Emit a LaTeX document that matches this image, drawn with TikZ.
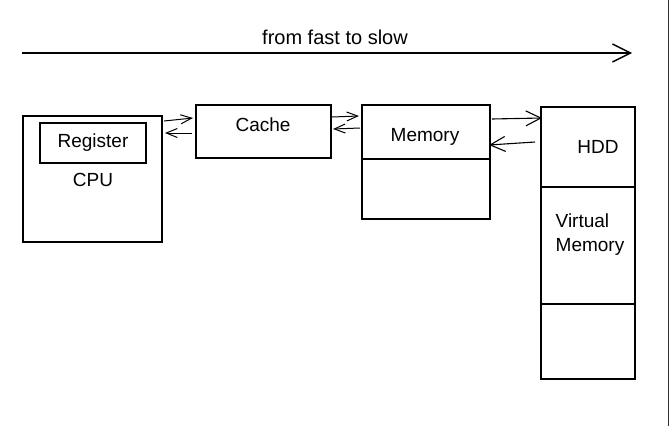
\documentclass[tikz,border=0pt]{standalone}
\usepackage{fontspec}
\setmainfont{Liberation Sans}
\usetikzlibrary{arrows.meta}
\begin{document}
\begin{tikzpicture}[x=1pt,y=-1pt,
    box/.style={draw,line width=1.2pt,inner sep=0pt},
    lbl/.style={font=\fontsize{19}{24}\selectfont},
    link/.style={-{Straight Barb[length=11,width=9]},line width=1pt}]
\useasboundingbox (0,0) rectangle (670,426);

% arrow on top
\coordinate (S) at (22,53);   % start
\coordinate (T) at (632,53);  % tip
\draw[-{Straight Barb[length=18,width=18]},line width=1.4pt] (S) -- (T);
\node[lbl,font=\fontsize{20}{24}\selectfont] (title) at (335,37) {from fast to slow};

% boxes
\node[box,minimum width=139,minimum height=126] (cpu)   at (92.5,179) {};
\node[box,minimum width=106,minimum height=40]  (reg)   at (93,143) {};
\node[box,minimum width=135,minimum height=53]  (cache) at (263.5,131.5) {};
\node[box,minimum width=128,minimum height=54]  (mem)   at (426,132) {};
\node[box,minimum width=128,minimum height=60]  (memb)  at (426,189) {};
\node[box,minimum width=94,minimum height=80]   (hdd)   at (588,147) {};
\node[box,minimum width=94,minimum height=117]  (virt)  at (588,245.5) {};
\node[box,minimum width=94,minimum height=75]   (hddb)  at (588,341.5) {};

% texts
\node[lbl] (tReg)   at (93,143)  {Register};
\node[lbl] (tCpu)   at (93,180)  {CPU};
\node[lbl] (tCache) at (263,125) {Cache};
\node[lbl] (tMem)   at (425,137) {Memory};
\node[lbl] (tHdd)   at (598,147) {HDD};
\node[lbl,align=left] (tVirt) at (590,235) {Virtual\\Memory};

% arrow ends
\coordinate (A1) at (164,121); \coordinate (A2) at (193,118); % cpu -> cache
\coordinate (B1) at (192,133); \coordinate (B2) at (165,133); % cache -> cpu
\coordinate (C1) at (332,117); \coordinate (C2) at (359,116); % cache -> memory
\coordinate (D1) at (360,128); \coordinate (D2) at (333,129); % memory -> cache
\coordinate (E1) at (492,119); \coordinate (E2) at (542,118); % memory -> hdd
\coordinate (F1) at (535,142); \coordinate (F2) at (489,145); % hdd -> memory
\foreach \P/\Q in {A1/A2,B1/B2,C1/C2,D1/D2} \draw[link] (\P) -- (\Q);
\foreach \P/\Q in {E1/E2,F1/F2}
  \draw[-{Straight Barb[length=15,width=15]},line width=1.1pt] (\P) -- (\Q);

% right border of the screenshot
\coordinate (R1) at (668.5,0); \coordinate (R2) at (668.5,426);
\draw[line width=1.2pt,black!80] (R1) -- (R2);
\end{tikzpicture}
\end{document}
